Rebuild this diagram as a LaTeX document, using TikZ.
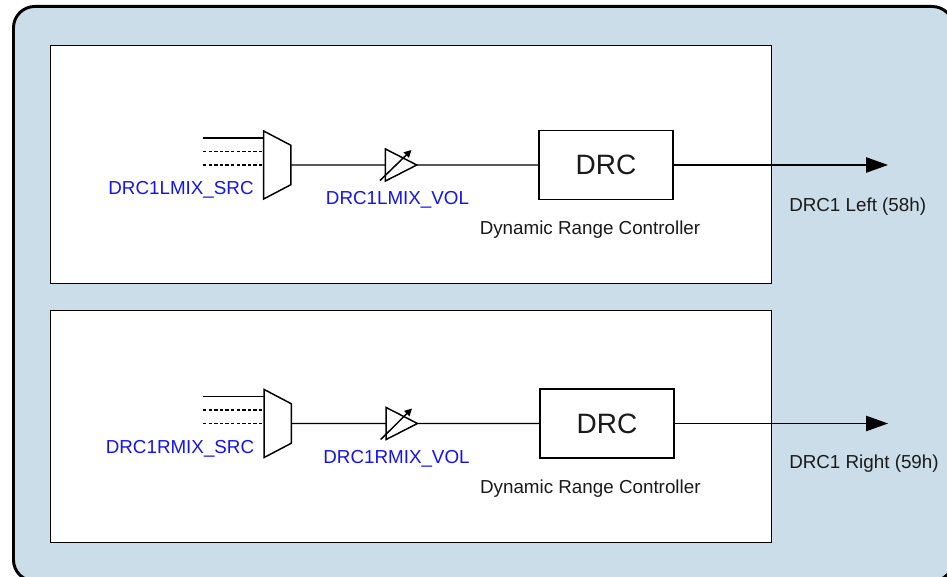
\documentclass[tikz,border=0pt]{standalone}
\usepackage{fontspec}
\setmainfont{Liberation Sans}
\usetikzlibrary{positioning,arrows.meta,shapes.geometric}
\definecolor{panelblue}{HTML}{CBDDE9}
\definecolor{labelblue}{HTML}{1414F0}
\definecolor{labeldark}{HTML}{1A1A1A}
\tikzset{
  panel/.style={draw=black, line width=1.1pt, fill=white},
  mux/.style={draw, fill=white, line width=1.1pt, shape=trapezium, shape border rotate=270, trapezium stretches=true, trapezium angle=82, minimum width=51pt, minimum height=20.5pt, inner sep=0pt, outer sep=0pt},
  amp/.style={draw, line width=1.1pt, shape=isosceles triangle, isosceles triangle stretches=true, minimum width=24pt, minimum height=23.5pt, inner sep=0pt, outer sep=0pt},
  drcbox/.style={draw, line width=1.1pt, fill=white, minimum width=100.5pt, minimum height=51.5pt, inner sep=0pt, font=\fontsize{21}{24}\selectfont, text=labeldark},
  reglabel/.style={text=labelblue, font=\fontsize{14.1}{16}\selectfont, inner sep=0pt},
  outlabel/.style={text=labeldark, font=\fontsize{14.1}{16}\selectfont, inner sep=0pt},
  wire/.style={line width=1.1pt},
  dotwire/.style={line width=1.1pt, dash pattern=on 2.5pt off 1.7pt},
  outwire/.style={line width=1.1pt, -{Triangle[length=16.5pt,width=11.5pt]}},
  gainwire/.style={line width=1.1pt, -{Triangle[length=5.5pt,width=5.5pt]}}
}
\begin{document}
\begin{tikzpicture}[x=0.75pt, y=-0.75pt]
  \useasboundingbox (0,0) rectangle (947,577);

  % Fondo
  \node[draw=black, line width=2.2pt, fill=panelblue, rounded corners=16pt, minimum width=705pt, minimum height=431pt, anchor=north west, inner sep=0pt] (outer) at (12,5) {};

  % Paneles blancos
  \node[panel, minimum width=540.75pt, minimum height=178.5pt, anchor=north west, inner sep=0pt] (leftpanel) at (50,45) {};
  \node[panel, minimum width=540.75pt, minimum height=174pt, anchor=north west, inner sep=0pt] (rightpanel) at (50,310) {};

  % Canal izquierdo
  \coordinate (lin1) at (203,138);
  \coordinate (lin2) at (203,151.5);
  \coordinate (lin3) at (203,165);
  \coordinate (lend1) at (264,138);
  \coordinate (lend2) at (264,151.5);
  \coordinate (lend3) at (264,165);
  \draw[wire] (lin1) -- (lend1);
  \draw[dotwire] (lin2) -- (lend2);
  \draw[dotwire] (lin3) -- (lend3);
  \node[mux] (lmux) at (277.3,165) {\phantom{.}};
  \node[amp] (lamp) at (395.5,165) {\phantom{.}};
  \node[drcbox] (ldrc) at (606,165) {DRC};
  \coordinate (lout) at (888,165);
  \coordinate (lgainfrom) at (380,180.5);
  \coordinate (lgainto) at (411.5,150);

  \node[reglabel] (lsrc) at (181,190) {DRC1LMIX\_SRC};
  \node[reglabel] (lvol) at (397.5,200) {DRC1LMIX\_VOL};
  \node[outlabel, below=22.5pt of ldrc.south, anchor=center, xshift=-12pt] (lname) {Dynamic Range Controller};
  \node[outlabel, anchor=west] (lreg) at (789,207) {DRC1 Left (58h)};

  \draw[wire] (lmux) -- (lamp);
  \draw[wire] (lamp) -- (ldrc);
  \draw[outwire] (ldrc) -- (lout);
  \draw[gainwire] (lgainfrom) -- (lgainto);

  % Canal derecho
  \coordinate (rin1) at (203,396.5);
  \coordinate (rin2) at (203,410);
  \coordinate (rin3) at (203,423.5);
  \coordinate (rend1) at (264.5,396.5);
  \coordinate (rend2) at (264.5,410);
  \coordinate (rend3) at (264.5,423.5);
  \draw[wire] (rin1) -- (rend1);
  \draw[dotwire] (rin2) -- (rend2);
  \draw[dotwire] (rin3) -- (rend3);
  \node[mux] (rmux) at (277.8,423.5) {\phantom{.}};
  \node[amp] (ramp) at (396.2,423.5) {\phantom{.}};
  \node[drcbox] (rdrc) at (607,423.5) {DRC};
  \coordinate (rout) at (888,423.5);
  \coordinate (rgainfrom) at (380.7,439.5);
  \coordinate (rgainto) at (412,408.5);

  \node[reglabel] (rsrc) at (180,449) {DRC1RMIX\_SRC};
  \node[reglabel] (rvol) at (396.5,459) {DRC1RMIX\_VOL};
  \node[outlabel, below=22.5pt of rdrc.south, anchor=center, xshift=-12.5pt] (rname) {Dynamic Range Controller};
  \node[outlabel, anchor=west] (rreg) at (789,464) {DRC1 Right (59h)};

  \draw[wire] (rmux) -- (ramp);
  \draw[wire] (ramp) -- (rdrc);
  \draw[outwire] (rdrc) -- (rout);
  \draw[gainwire] (rgainfrom) -- (rgainto);
\end{tikzpicture}
\end{document}
